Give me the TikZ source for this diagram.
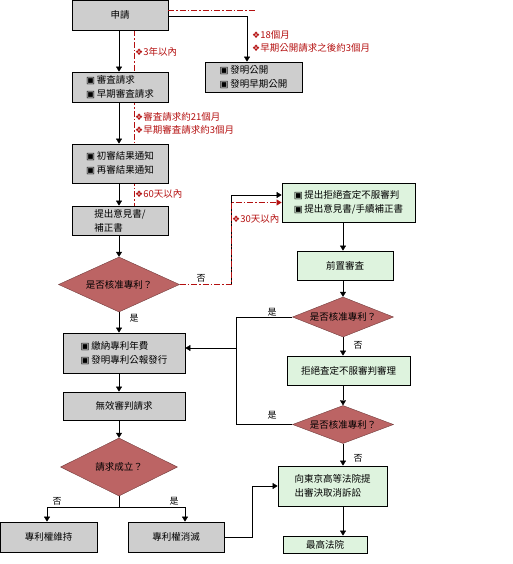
\documentclass[tikz,border=0pt]{standalone}
\usepackage{fontspec}
\setmainfont{Noto Sans CJK TC}
\newfontfamily\symfont{DejaVu Sans}
\usepackage{tikz}
\usetikzlibrary{arrows.meta,shapes.geometric,backgrounds,calc}
\definecolor{boxgray}{RGB}{206,206,206}
\definecolor{boxgreen}{RGB}{222,243,222}
\definecolor{askred}{RGB}{188,100,100}
\definecolor{notered}{RGB}{180,16,16}
\newcommand{\mk}{{\symfont\small ❖}}
\newcommand{\chk}{{\symfont ▣}\,}

\begin{document}
\begin{tikzpicture}[x=1pt,y=-1pt]
        \useasboundingbox (0,0) rectangle (512,564);
        \begin{scope}[
            >={Triangle[width=6pt,length=5pt]},
            line width=0.8pt,
            every node/.style={font=\fontsize{9.5}{14}\selectfont,align=left,inner sep=0pt},
            graybox/.style={draw,fill=boxgray},
            greenbox/.style={draw,fill=boxgreen},
            ask/.style={diamond,aspect=2.7,fill=askred,draw=askred!60!black,line width=0.4pt},
            note/.style={anchor=west,text=notered},
            yn/.style={font=\fontsize{9}{10}\selectfont},
            redline/.style={draw=notered,dash pattern=on 6pt off 2pt on 1.5pt off 2pt}
            ]
            % left column
            \node[graybox,minimum width=96pt,minimum height=30pt] (A) at (120,15) {申請};
            \node[graybox,minimum width=96pt,minimum height=30pt] (E) at (120,87) {\chk 審査請求\\\chk 早期審査請求};
            \node[graybox,minimum width=97pt,minimum height=30pt] (P) at (253.5,77) {\chk 發明公開\\\chk 發明早期公開};
            \node[graybox,minimum width=96pt,minimum height=39pt] (N) at (120,163.5) {\chk 初審結果通知\\\chk 再審結果通知};
            \node[graybox,minimum width=96pt,minimum height=29pt] (O) at (120,220.5) {提出意見書/\\補正書};
            \node[ask,minimum width=121pt,minimum height=55pt] (D1) at (119,284.5) {是否核准專利？};
            \node[graybox,minimum width=122pt,minimum height=40pt] (F) at (124,353) {\chk 繳納專利年費\\\chk 發明專利公報發行};
            \node[graybox,minimum width=122pt,minimum height=28pt] (I) at (124,406) {無效審判請求};
            \node[ask,minimum width=117pt,minimum height=58pt] (D2) at (119,467) {請求成立？};
            \node[graybox,minimum width=97pt,minimum height=30pt] (K) at (48.5,537) {專利權維持};
            \node[graybox,minimum width=96pt,minimum height=30pt] (L) at (176,537) {專利權消滅};
            % right column
            \node[greenbox,minimum width=133pt,minimum height=39pt] (T) at (348.5,202.5) {\chk 提出拒絕査定不服審判\\\chk 提出意見書/手續補正書};
            \node[greenbox,minimum width=96pt,minimum height=29pt] (Q) at (345,265.5) {前置審査};
            \node[ask,minimum width=101pt,minimum height=40pt] (D3) at (343,317) {是否核准專利？};
            \node[greenbox,minimum width=123pt,minimum height=29pt] (R) at (348.5,370.5) {拒絕査定不服審判審理};
            \node[ask,minimum width=101pt,minimum height=38pt] (D4) at (343,424.5) {是否核准專利？};
            \node[greenbox,minimum width=109pt,minimum height=40pt] (H) at (332.5,486) {向東京高等法院提\\出審決取消訴訟};
            \node[greenbox,minimum width=84pt,minimum height=17pt] (Z) at (325,544.5) {最高法院};

            \coordinate (lc) at (119,0);
            \coordinate (rc) at (343,0);
            \coordinate (pe) at (255,10);
            \coordinate (cb) at (231,284.5);
            \coordinate (jn) at (236,348);
            \coordinate (sp) at (119,507);

            % time notes
            \begin{pgfonlayer}{background}
            \draw[redline] ($(A.south)+(14,0)$) -- ($(O.north)+(14,0)$);
            \end{pgfonlayer}
            \draw[redline] (A.east |- pe) -- (pe);
            \node[note] (t1) at (135,52) {\mk 3年以內};
            \node[note] (t2) at (252,35) {\mk 18個月};
            \node[note] (t3) at (252,48) {\mk 早期公開請求之後約3個月};
            \node[note] (t4) at (135,117) {\mk 審査請求約21個月};
            \node[note] (t5) at (135,130) {\mk 早期審査請求約3個月};
            \node[note] (t6) at (135,194) {\mk 60天以內};
            \node[note] (t7) at (232,219) {\mk 30天以內};

            % connectors
            \path [->] (A.south -| lc) edge (E.north -| lc);
            \path [->] (E.south -| lc) edge (N.north -| lc);
            \path [->] (N.south -| lc) edge (O.north -| lc);
            \path [->] (O.south -| lc) edge (D1.north);
            \path [->] (D1.south) edge (F.north -| lc);
            \path [->] (F.south -| lc) edge (I.north -| lc);
            \path [->] (I.south -| lc) edge (D2.north);
            \draw [->] ($(A.east)+(0,1)$) -| ($(P.north)+(-6.5,0)$);
            \draw [->] (cb) |- ($(T.west)+(0,-7.5)$);
            \draw [redline,->] (D1.east) -- (cb) |- (T.west);
            \draw (D2.south) -- (sp);
            \draw [->] (sp) -| ($(K.north)+(-1.5,0)$);
            \draw [->] (sp) -| ($(L.north)+(9,0)$);
            \draw [->] (L.east) -- ++(28,0) |- (H.west);
            \path [->] (T.south -| rc) edge (Q.north -| rc);
            \path [->] (Q.south -| rc) edge (D3.north);
            \path [->] (D3.south) edge (R.north -| rc);
            \path [->] (R.south -| rc) edge (D4.north);
            \path [->] (D4.south) edge (H.north -| rc);
            \path [->] (H.south -| rc) edge (Z.north -| rc);
            \draw (D3.west) -- (D3.west -| jn) -- (D4.west -| jn) -- (D4.west);
            \draw [->] (jn) -- (F.east |- jn);

            % yes / no
            \node[yn] (y1) at (201,278) {否};
            \node[yn] (y2) at (134,318) {是};
            \node[yn] (y3) at (272,312) {是};
            \node[yn] (y4) at (358,345) {否};
            \node[yn] (y5) at (272,415) {是};
            \node[yn] (y6) at (358,458) {否};
            \node[yn] (y7) at (57,501) {否};
            \node[yn] (y8) at (174,501) {是};
        \end{scope}
    \end{tikzpicture}
\end{document}
